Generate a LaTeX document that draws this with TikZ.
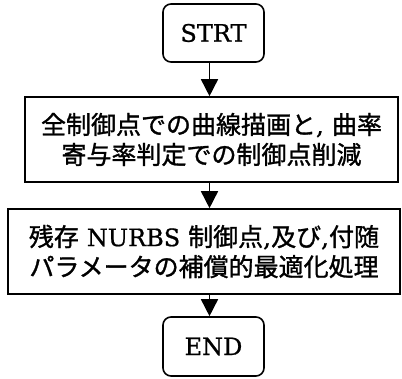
\documentclass[tikz,border=0pt]{standalone}
\usepackage{fontspec}
\setmainfont{DejaVu Serif}[FakeBold=0.8]
\newfontfamily\cjk{Noto Sans CJK JP}[FakeBold=1.2]
\usetikzlibrary{arrows.meta}
\tikzset{
  term/.style={draw, line width=1.6pt, rounded corners=8pt, minimum width=101pt, minimum height=58pt, inner sep=0pt, font=\fontsize{24}{30}\selectfont},
  proc/.style={draw, line width=1.6pt, minimum height=85pt, inner sep=0pt, align=center, font=\fontsize{25}{30}\selectfont},
  arr/.style={line width=1.6pt, -{Triangle[length=17pt,width=17pt]}}
}
\begin{document}
\begin{tikzpicture}[x=1pt,y=-1pt]
\useasboundingbox (0,0) rectangle (402,379);
\node[term] (start) at (213.5,33) {STRT};
\node[proc, minimum width=373pt] (b1) at (211.5,139.5) {{\cjk 全制御点での曲線描画と}, {\cjk 曲率}\\{\cjk 寄与率判定での制御点削減}};
\node[proc, minimum width=392pt] (b2) at (204,251.5) {{\cjk 残存} {\fontsize{24}{30}\selectfont NURBS} {\cjk 制御点},{\cjk 及び},{\cjk 付随}\\{\cjk パラメータの補償的最適化処理}};
\node[term, minimum height=59pt] (end) at (213.5,346.5) {END};
\draw[arr] ([xshift=-4pt]start.south) -- ([xshift=-4pt]start.south |- b1.north);
\draw[arr] ([xshift=-4pt]start.south |- b1.south) -- ([xshift=-4pt]start.south |- b2.north);
\draw[arr] ([xshift=-4pt]start.south |- b2.south) -- ([xshift=-4pt]end.north);
\end{tikzpicture}
\end{document}
